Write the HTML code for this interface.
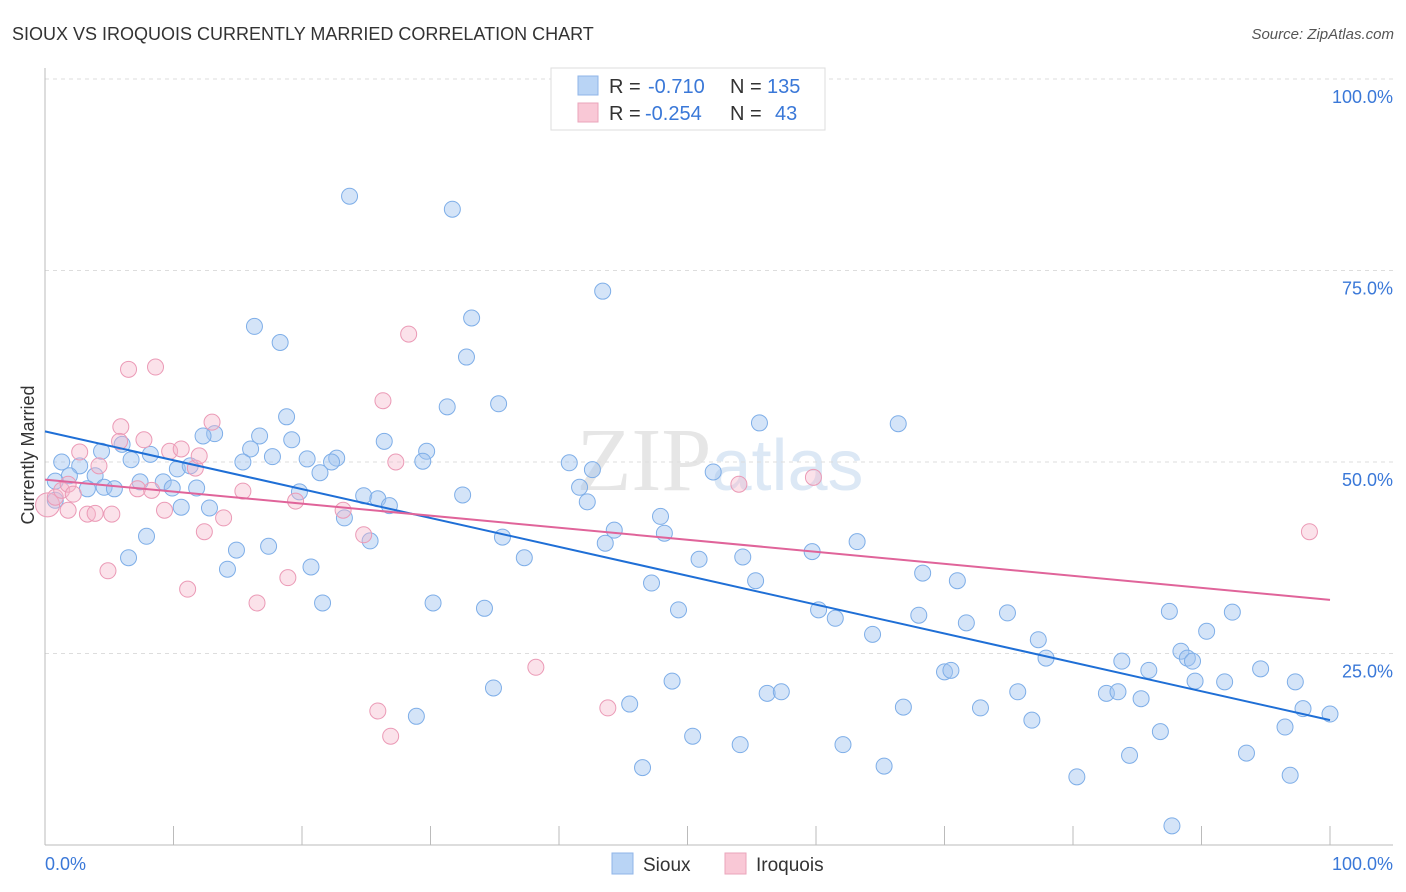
<!DOCTYPE html>
<html><head><meta charset="utf-8"><style>
body{margin:0;background:#fff;width:1406px;height:892px;overflow:hidden;font-family:"Liberation Sans",sans-serif}
svg{position:absolute;left:0;top:0}
</style></head><body>
<svg id="chart" width="1406" height="892" font-family="Liberation Sans, sans-serif">
<text x="12" y="40" font-size="18" fill="#333">SIOUX VS IROQUOIS CURRENTLY MARRIED CORRELATION CHART</text>
<text x="1394" y="39" font-size="15" fill="#555" font-style="italic" text-anchor="end">Source: ZipAtlas.com</text>
<text x="720" y="490" font-size="90" fill="#e6e6e6" text-anchor="middle" font-family="Liberation Serif, serif">ZIP<tspan fill="#dce8f5" font-family="Liberation Sans, sans-serif" font-size="72">atlas</tspan></text>
<g id="grid"></g>
<g id="axes"></g>
<g id="pts"></g>
<g id="trend"></g>
<text transform="translate(34,455) rotate(-90)" font-size="18" fill="#333" text-anchor="middle">Currently Married</text>
<text x="45" y="870" font-size="18" fill="#3a78d8">0.0%</text>
<text x="1393" y="870" font-size="18" fill="#3a78d8" text-anchor="end">100.0%</text>
<g>
<rect x="551" y="68" width="274" height="62" fill="#fff" stroke="#ddd"/>
<rect x="578" y="76" width="20" height="19" fill="#b9d4f5" stroke="#8fb5e8"/>
<rect x="578" y="103" width="20" height="19" fill="#f9c8d6" stroke="#eaa5bb"/>
<text x="609" y="93" font-size="20" fill="#333">R = <tspan fill="#3a78d8" x="648">-0.710</tspan><tspan x="730">N = </tspan><tspan fill="#3a78d8" x="767">135</tspan></text>
<text x="609" y="120" font-size="20" fill="#333">R = <tspan fill="#3a78d8" x="645">-0.254</tspan><tspan x="730">N = </tspan><tspan fill="#3a78d8" x="775">43</tspan></text>
</g>
<g>
<rect x="612" y="853" width="21" height="21" fill="#b9d4f5" stroke="#8fb5e8"/>
<text x="643" y="871" font-size="19" fill="#333">Sioux</text>
<rect x="725" y="853" width="21" height="21" fill="#f9c8d6" stroke="#eaa5bb"/>
<text x="756" y="871" font-size="19" fill="#333">Iroquois</text>
</g>
</svg>
<script>
const yTicks=[25,50,75,100];
const yTickLabels=["25.0%","50.0%","75.0%","100.0%"];
const xTicks=[0,10,20,30,40,50,60,70,80,90,100];
const siouxX=[23.7,31.7,43.4,16.3,18.3,33.2,32.8,31.3,35.3,18.8,55.6,66.4,6.0,13.2,12.3,16.7,19.2,26.4,29.7,8.2,16.0,4.4,1.3,2.7,6.7,17.7,15.4,20.4,22.7,22.3,29.4,40.8,42.6,52.0,10.3,11.3,3.9,1.9,0.8,4.6,3.3,5.4,7.4,9.2,9.9,11.8,19.8,21.4,41.6,24.8,25.9,26.8,32.5,42.2,10.6,12.8,23.3,0.8,44.3,47.9,48.2,35.6,43.6,7.9,25.3,14.9,17.4,6.5,37.3,50.9,54.3,59.7,63.2,14.2,20.7,47.2,55.3,68.3,71.0,21.6,30.2,34.2,49.3,60.2,61.5,64.4,68.0,71.7,74.9,77.3,77.9,87.5,90.4,92.4,88.4,88.9,89.3,83.8,85.9,94.6,70.0,70.5,48.8,34.9,56.2,57.3,75.7,82.6,83.5,85.3,89.5,91.8,97.3,45.5,28.9,66.8,72.8,76.8,97.9,100.0,96.5,50.4,54.1,62.1,86.8,84.4,93.5,46.5,65.3,80.3,96.9,87.7];
const siouxY=[84.7,83.0,72.3,67.7,65.6,68.8,63.7,57.2,57.6,55.9,55.1,55.0,52.3,53.7,53.4,53.4,52.9,52.7,51.4,51.0,51.7,51.4,50.0,49.5,50.3,50.7,50.0,50.4,50.5,50.0,50.1,49.9,49.0,48.7,49.1,49.5,48.2,48.2,47.5,46.7,46.5,46.5,47.4,47.4,46.6,46.6,46.1,48.6,46.7,45.6,45.2,44.3,45.7,44.8,44.1,44.0,42.7,45.0,41.1,42.9,40.7,40.2,39.4,40.3,39.7,38.5,39.0,37.5,37.5,37.3,37.6,38.3,39.6,36.0,36.3,34.2,34.5,35.5,34.5,31.6,31.6,30.9,30.7,30.7,29.6,27.5,30.0,29.0,30.3,26.8,24.4,30.5,27.9,30.4,25.3,24.4,24.0,24.0,22.8,23.0,22.6,22.8,21.4,20.5,19.8,20.0,20.0,19.8,20.0,19.1,21.4,21.3,21.3,18.4,16.8,18.0,17.9,16.3,17.8,17.1,15.4,14.2,13.1,13.1,14.8,11.7,12.0,10.1,10.3,8.9,9.1,2.5];
const iroqX=[0.2,0.8,1.3,1.8,2.2,2.7,4.2,3.3,3.9,5.2,4.9,5.9,5.8,7.7,6.5,8.6,7.2,8.3,9.3,9.7,10.6,11.7,12.0,13.0,12.4,13.9,11.1,15.4,16.5,18.9,19.5,23.2,24.8,26.3,27.3,28.3,25.9,26.9,38.2,43.8,54.0,59.8,98.4,1.8];
const iroqY=[44.4,45.4,46.3,47.1,45.8,51.3,49.5,43.2,43.3,43.2,35.8,54.6,52.7,52.9,62.1,62.4,46.5,46.3,43.7,51.4,51.7,49.2,50.8,55.2,40.9,42.7,33.4,46.2,31.6,34.9,44.9,43.7,40.5,58.0,50.0,66.7,17.5,14.2,23.2,17.9,47.1,48.0,40.9,43.7];
const siouxTrend=[54.0,16.3];
const iroqTrend=[47.7,32.0];

const X0=45,X1=1330,Y0=845,Y100=79;
const sx=v=>X0+(X1-X0)*v/100;
const sy=v=>Y0-(Y0-Y100)*v/100;
const NS="http://www.w3.org/2000/svg";
function mk(tag,attrs,parent){const e=document.createElementNS(NS,tag);for(const k in attrs)e.setAttribute(k,attrs[k]);parent.appendChild(e);return e;}
const grid=document.getElementById('grid'),axes=document.getElementById('axes'),pts=document.getElementById('pts'),trend=document.getElementById('trend');
yTicks.forEach((t,i)=>{
  const l=mk('line',{x1:45,x2:1393,y1:sy(t),y2:sy(t),stroke:'#ddd','stroke-dasharray':'4,4'},grid);
  
  
  const tx=mk('text',{x:1393,y:sy(t)+24,'font-size':18,fill:'#3a78d8','text-anchor':'end'},grid);
  tx.textContent=yTickLabels[i];
  
  
});
const ya=mk('line',{x1:45,x2:45,y1:68,y2:845,stroke:'#bbb'},axes);


const xa=mk('line',{x1:45,x2:1393,y1:845,y2:845,stroke:'#bbb'},axes);


xTicks.forEach(t=>{
  const l=mk('line',{x1:sx(t),x2:sx(t),y1:826,y2:845,stroke:'#bbb'},axes);
  
  
});
siouxX.forEach((x,i)=>{
  const c=mk('circle',{cx:sx(x),cy:sy(siouxY[i]),r:8,fill:'rgba(160,196,240,0.45)',stroke:'#7eaee8','stroke-width':1},pts);
  
  
});
iroqX.forEach((x,i)=>{
  const c=mk('circle',{cx:sx(x),cy:sy(iroqY[i]),r:i===0?12:8,fill:'rgba(246,182,202,0.4)',stroke:'#eb9ab6','stroke-width':1},pts);
  
  
});
const t1=mk('line',{x1:sx(0),y1:sy(siouxTrend[0]),x2:sx(100),y2:sy(siouxTrend[1]),stroke:'#1f6fd6','stroke-width':2},trend);


const t2=mk('line',{x1:sx(0),y1:sy(iroqTrend[0]),x2:sx(100),y2:sy(iroqTrend[1]),stroke:'#e0649a','stroke-width':2},trend);


</script>
</body></html>
